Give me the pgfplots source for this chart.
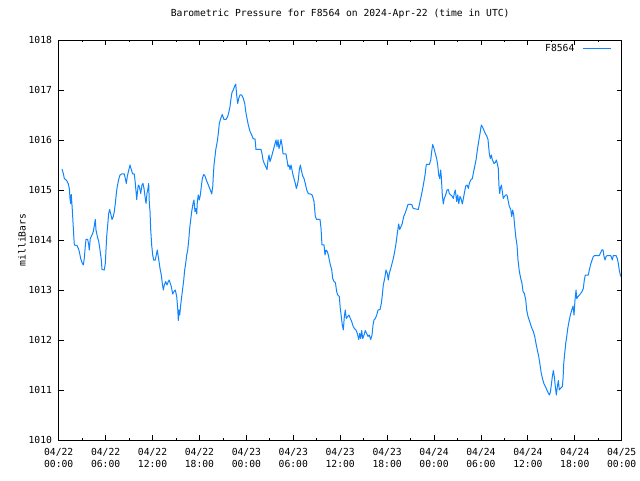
\documentclass[border=0pt]{standalone}
\usepackage{fontspec}
\setmainfont{DejaVu Sans Mono}
\usepackage{pgfplots}
\pgfplotsset{compat=1.18}
\definecolor{pline}{RGB}{16,132,255}
\begin{document}
\begin{tikzpicture}
\path[use as bounding box] (-58.7pt,-40pt) rectangle (581.3pt,440pt);
\begin{axis}[
  scale only axis, width=563pt, height=400pt,
  xmin=0, xmax=72, ymin=1010, ymax=1018,
  xtick={0,6,...,72},
  xticklabels={{04/22\\00:00},{04/22\\06:00},{04/22\\12:00},{04/22\\18:00},{04/23\\00:00},{04/23\\06:00},{04/23\\12:00},{04/23\\18:00},{04/24\\00:00},{04/24\\06:00},{04/24\\12:00},{04/24\\18:00},{04/25\\00:00}},
  minor x tick num=1,
  ytick={1010,1011,...,1018},
  scaled y ticks=false,
  /pgf/number format/1000 sep={},
  /pgf/number format/assume math mode=true,
  tick align=inside, major tick length=5pt, minor tick length=2.5pt,
  axis line style={line width=0.9pt},
  every tick/.style={black, line width=0.8pt},
  font=\fontsize{9.7}{12}\selectfont,
  xticklabel style={align=center, inner sep=0pt, yshift=-8pt, font=\fontsize{9.7}{12}\selectfont},
  yticklabel style={inner sep=0pt, xshift=-6.5pt, font=\fontsize{9.7}{12}\selectfont},
  title={Barometric Pressure for F8564 on 2024-Apr-22 (time in UTC)},
  title style={at={(0.5,1.05)}, anchor=center, inner sep=0pt, font=\fontsize{9.7}{12}\selectfont},
  ylabel={milliBars},
  ylabel style={at={(rel axis cs:-0.0652,0.5)}, anchor=center, inner sep=0pt, font=\fontsize{9.7}{12}\selectfont},
  legend style={draw=none, fill=none, at={(rel axis cs:0.982,0.994)}, anchor=north east, font=\fontsize{9.7}{12}\selectfont, inner sep=0pt},
  legend cell align=right,
  legend plot pos=right,
  legend image code/.code={\path (0pt,0pt); \draw[#1] (6pt,0pt) -- (34pt,0pt);},
]
\addplot[pline, line width=1pt, line join=round] coordinates {
(0.42,1015.42)(0.59,1015.33)(0.72,1015.23)(1.02,1015.19)(1.23,1015.12)(1.36,1015.03)(1.45,1014.82)(1.53,1014.73)(1.61,1014.91)(1.70,1014.70)(1.79,1014.47)(1.92,1014.10)(2.00,1013.90)(2.34,1013.89)(2.51,1013.83)(2.63,1013.77)(2.81,1013.63)(2.98,1013.55)(3.15,1013.50)(3.27,1013.63)(3.40,1013.87)(3.49,1014.01)(3.71,1014.01)(3.84,1013.90)(3.91,1013.80)(4.04,1014.03)(4.26,1014.10)(4.43,1014.17)(4.60,1014.33)(4.68,1014.41)(4.77,1014.20)(4.94,1014.07)(5.12,1013.97)(5.28,1013.80)(5.45,1013.60)(5.54,1013.41)(5.83,1013.40)(5.96,1013.53)(6.05,1013.80)(6.14,1014.08)(6.27,1014.30)(6.39,1014.53)(6.52,1014.61)(6.69,1014.50)(6.82,1014.41)(6.98,1014.47)(7.11,1014.57)(7.24,1014.73)(7.37,1014.93)(7.49,1015.07)(7.67,1015.21)(7.84,1015.30)(8.06,1015.32)(8.39,1015.32)(8.52,1015.23)(8.65,1015.13)(8.77,1015.27)(8.95,1015.39)(9.12,1015.50)(9.28,1015.41)(9.46,1015.32)(9.67,1015.32)(9.80,1015.13)(9.89,1014.97)(9.98,1014.81)(10.05,1014.93)(10.18,1015.10)(10.31,1015.07)
(10.49,1014.93)(10.65,1015.10)(10.78,1015.13)(10.91,1015.03)(11.04,1014.87)(11.17,1014.73)(11.29,1014.93)(11.42,1015.03)(11.51,1015.13)(11.59,1014.73)(11.68,1014.57)(11.77,1014.20)(11.89,1013.90)(12.02,1013.70)(12.15,1013.60)(12.35,1013.60)(12.48,1013.70)(12.61,1013.80)(12.70,1013.70)(12.83,1013.57)(12.96,1013.43)(13.12,1013.30)(13.25,1013.13)(13.38,1013.00)(13.51,1013.10)(13.68,1013.17)(13.85,1013.10)(14.02,1013.17)(14.14,1013.20)(14.27,1013.13)(14.40,1013.07)(14.58,1012.92)(14.75,1012.97)(14.91,1013.00)(15.09,1012.87)(15.22,1012.63)(15.30,1012.39)(15.39,1012.60)(15.48,1012.50)(15.60,1012.70)(15.73,1012.87)(15.86,1013.03)(15.99,1013.20)(16.11,1013.40)(16.24,1013.53)(16.37,1013.70)(16.50,1013.80)(16.63,1014.00)(16.75,1014.23)(16.88,1014.40)(17.01,1014.57)(17.18,1014.73)(17.30,1014.80)(17.43,1014.57)(17.56,1014.63)(17.65,1014.52)(17.73,1014.77)(17.85,1014.90)(17.98,1014.80)(18.11,1014.90)(18.24,1015.07)(18.37,1015.23)(18.54,1015.31)(18.71,1015.28)(18.88,1015.20)(19.06,1015.13)(19.22,1015.07)(19.39,1015.00)(19.57,1014.92)(19.70,1015.07)(19.77,1015.27)(19.86,1015.50)(19.99,1015.67)(20.08,1015.80)
(20.28,1015.97)(20.41,1016.13)(20.54,1016.33)(20.72,1016.43)(20.92,1016.51)(21.14,1016.41)(21.40,1016.41)(21.61,1016.47)(21.78,1016.57)(21.91,1016.67)(22.04,1016.83)(22.16,1016.95)(22.33,1017.00)(22.51,1017.08)(22.64,1017.12)(22.76,1016.90)(22.89,1016.73)(23.02,1016.83)(23.19,1016.90)(23.40,1016.90)(23.61,1016.83)(23.79,1016.73)(23.92,1016.57)(24.08,1016.43)(24.25,1016.30)(24.47,1016.17)(24.68,1016.10)(24.89,1016.02)(25.11,1016.02)(25.23,1015.81)(25.87,1015.81)(26.00,1015.73)(26.13,1015.60)(26.29,1015.53)(26.47,1015.47)(26.64,1015.41)(26.77,1015.60)(26.90,1015.70)(27.02,1015.57)(27.15,1015.63)(27.28,1015.70)(27.45,1015.80)(27.62,1015.90)(27.79,1016.00)(27.92,1015.87)(28.05,1016.00)(28.17,1015.83)(28.30,1015.90)(28.43,1016.01)(28.56,1015.90)(28.69,1015.72)(29.07,1015.72)(29.20,1015.60)(29.33,1015.47)(29.45,1015.50)(29.58,1015.41)(29.71,1015.50)(29.84,1015.40)(29.97,1015.30)(30.09,1015.23)(30.26,1015.13)(30.39,1015.03)(30.52,1015.10)(30.64,1015.20)(30.77,1015.40)(30.90,1015.50)(31.03,1015.40)(31.21,1015.28)(31.37,1015.23)(31.54,1015.13)(31.72,1015.00)(31.92,1014.93)(32.36,1014.91)(32.48,1014.87)(32.65,1014.77)(32.82,1014.47)(33.00,1014.41)(33.42,1014.41)(33.55,1014.23)(33.67,1013.90)(33.93,1013.90)(34.06,1013.70)(34.19,1013.80)(34.35,1013.77)(34.48,1013.70)(34.70,1013.53)(34.92,1013.40)(35.04,1013.23)(35.21,1013.17)(35.38,1013.15)(35.55,1012.97)(35.68,1012.90)(35.89,1012.87)(36.01,1012.63)(36.14,1012.47)(36.27,1012.30)(36.40,1012.20)(36.53,1012.47)(36.65,1012.60)(36.78,1012.43)(36.96,1012.47)(37.13,1012.50)(37.29,1012.43)(37.47,1012.37)(37.64,1012.28)(37.81,1012.23)(38.02,1012.20)(38.19,1012.13)(38.37,1012.01)(38.50,1012.13)(38.62,1012.03)(38.75,1012.19)(38.88,1012.03)(39.05,1012.10)(39.21,1012.19)(39.39,1012.13)(39.56,1012.07)(39.72,1012.10)(39.90,1012.01)(40.07,1012.10)(40.20,1012.30)(40.32,1012.40)(40.49,1012.43)(40.67,1012.50)(40.84,1012.60)(41.09,1012.61)(41.26,1012.73)(41.39,1012.90)(41.51,1013.10)(41.69,1013.23)(41.86,1013.40)(42.03,1013.33)(42.15,1013.20)(42.28,1013.33)(42.46,1013.43)(42.63,1013.53)(42.79,1013.63)(42.97,1013.77)(43.14,1013.93)(43.30,1014.13)(43.48,1014.32)(43.61,1014.21)(43.78,1014.27)(43.94,1014.33)(44.12,1014.47)(44.29,1014.53)(44.51,1014.63)(44.67,1014.71)(45.15,1014.71)(45.35,1014.63)(45.99,1014.61)
(46.21,1014.77)(46.43,1014.93)(46.63,1015.10)(46.85,1015.30)(47.01,1015.51)(47.40,1015.51)(47.58,1015.60)(47.70,1015.77)(47.83,1015.91)(48.00,1015.83)(48.16,1015.73)(48.34,1015.63)(48.47,1015.50)(48.60,1015.30)(48.73,1015.23)(48.85,1015.40)(48.93,1015.27)(49.06,1014.90)(49.19,1014.72)(49.31,1014.83)(49.49,1014.90)(49.66,1015.00)(49.83,1015.01)(49.96,1014.93)(50.13,1014.90)(50.30,1014.88)(50.47,1014.83)(50.59,1014.93)(50.72,1015.00)(50.90,1014.77)(51.03,1014.90)(51.16,1014.73)(51.32,1014.87)(51.45,1014.83)(51.62,1014.72)(51.75,1014.83)(51.87,1014.93)(52.05,1015.08)(52.22,1015.10)(52.39,1015.03)(52.51,1015.13)(52.69,1015.20)(52.90,1015.23)(53.02,1015.33)(53.20,1015.47)(53.37,1015.60)(53.54,1015.80)(53.71,1015.97)(53.88,1016.13)(54.05,1016.30)(54.23,1016.25)(54.39,1016.19)(54.56,1016.13)(54.74,1016.08)(54.90,1016.01)(55.07,1015.73)(55.20,1015.63)(55.33,1015.70)(55.45,1015.61)(55.67,1015.53)(55.84,1015.55)(55.97,1015.60)(56.09,1015.53)(56.22,1015.43)(56.31,1015.07)(56.40,1014.93)(56.48,1015.03)(56.61,1015.10)(56.73,1014.97)(56.86,1014.83)(56.99,1014.87)(57.17,1014.90)(57.33,1014.90)(57.50,1014.77)(57.63,1014.67)(57.81,1014.61)(57.93,1014.47)(58.06,1014.60)(58.19,1014.50)(58.32,1014.27)(58.45,1014.07)(58.61,1013.90)(58.74,1013.60)(58.91,1013.37)(59.09,1013.23)(59.25,1013.13)(59.38,1012.97)(59.55,1012.93)(59.73,1012.80)(59.85,1012.60)(60.02,1012.47)(60.19,1012.39)(60.37,1012.30)(60.53,1012.23)(60.70,1012.17)(60.88,1012.07)(61.04,1011.93)(61.21,1011.80)(61.39,1011.67)(61.56,1011.50)(61.72,1011.33)(61.90,1011.21)(62.07,1011.12)(62.24,1011.07)(62.41,1011.01)(62.58,1010.95)(62.75,1010.90)(62.87,1010.95)(63.00,1011.10)(63.13,1011.27)(63.26,1011.39)(63.38,1011.27)(63.51,1011.07)(63.64,1010.90)(63.77,1011.07)(63.90,1011.19)(64.02,1011.00)(64.15,1011.03)(64.41,1011.07)(64.50,1011.23)(64.59,1011.53)(64.71,1011.73)(64.84,1011.93)(64.97,1012.07)(65.10,1012.23)(65.26,1012.37)(65.43,1012.50)(65.61,1012.60)(65.78,1012.68)(65.90,1012.50)(66.03,1012.80)(66.16,1013.00)(66.25,1012.83)(66.42,1012.87)(66.58,1012.90)(66.76,1012.93)(66.93,1012.97)(67.09,1013.03)(67.22,1013.20)(67.35,1013.30)(67.73,1013.30)(67.86,1013.40)(68.04,1013.52)(68.21,1013.60)(68.37,1013.67)(68.55,1013.69)(69.14,1013.69)(69.32,1013.75)(69.45,1013.80)(69.61,1013.80)(69.74,1013.67)(69.87,1013.60)(70.00,1013.67)(70.16,1013.69)(70.60,1013.69)(70.80,1013.60)(70.93,1013.69)(71.27,1013.69)(71.44,1013.63)(71.57,1013.53)(71.69,1013.40)(71.87,1013.27)
};
\addlegendentry{F8564}
\end{axis}
\end{tikzpicture}
\end{document}
